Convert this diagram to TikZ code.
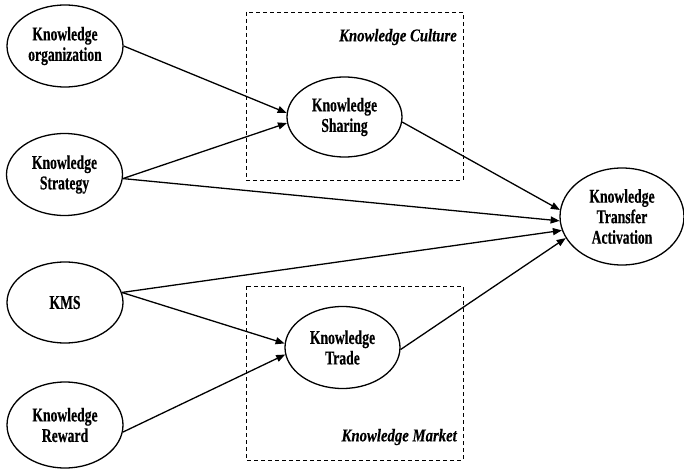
\documentclass[tikz,border=0pt]{standalone}
\usepackage{fontspec}
\newfontfamily\capfont[FakeStretch=0.70,FakeBold=0.4]{Liberation Serif}
\newfontfamily\areafont[FakeStretch=0.82,FakeBold=0.3]{Liberation Serif}
\usetikzlibrary{arrows.meta,shapes.geometric}
\begin{document}
\begin{tikzpicture}[x=1bp,y=-1bp,
  concept/.style={ellipse,draw,line width=1.3bp,inner sep=0pt,
    minimum width=116bp,minimum height=82bp,align=center,
    font=\capfont\bfseries\fontsize{19.5bp}{20.5bp}\selectfont},
  area/.style={draw,dashed,line width=0.9bp,dash pattern=on 4bp off 3bp},
  arealabel/.style={anchor=east,inner sep=0pt,
    font=\areafont\bfseries\itshape\fontsize{18bp}{20bp}\selectfont},
  link/.style={line width=1.3bp,-{Triangle[length=9bp,width=7bp]}}]
\useasboundingbox (0,0) rectangle (684,476);

% dashed groupings
\draw[area] (246,12) rectangle (463,180);
\draw[area] (246,286) rectangle (463,460);
\node[arealabel] (culture) at (457,37) {Knowledge Culture};
\node[arealabel] (market) at (457,437) {Knowledge Market};

% constructs
\node[concept] (org) at (65,46) {Knowledge\\organization};
\node[concept] (strategy) at (64.5,174.5) {Knowledge\\Strategy};
\node[concept,minimum height=81bp] (kms) at (65,302.5) {KMS};
\node[concept,minimum height=86bp] (reward) at (65,425) {Knowledge\\Reward};
\node[concept,minimum width=115bp,minimum height=80bp] (sharing) at (344.5,117) {Knowledge\\Sharing};
\node[concept,minimum width=115bp,minimum height=82bp] (trade) at (342.5,347.5) {Knowledge\\Trade};
\node[concept,minimum width=124bp,minimum height=97bp] (transfer) at (622,216.5) {Knowledge\\Transfer\\Activation};

% paths
\draw[link] (org.east) -- (sharing.176);
\draw[link] (strategy.-4) -- (sharing.186);
\draw[link] (strategy.-4) -- (transfer.184);
\draw[link] (sharing.-5) -- (transfer.174);
\draw[link] (kms.10) -- (transfer.193);
\draw[link] (kms.10) -- (trade.176);
\draw[link] (reward.-7) -- (trade.187);
\draw[link] (trade.-2) -- (transfer.201);
\end{tikzpicture}
\end{document}
